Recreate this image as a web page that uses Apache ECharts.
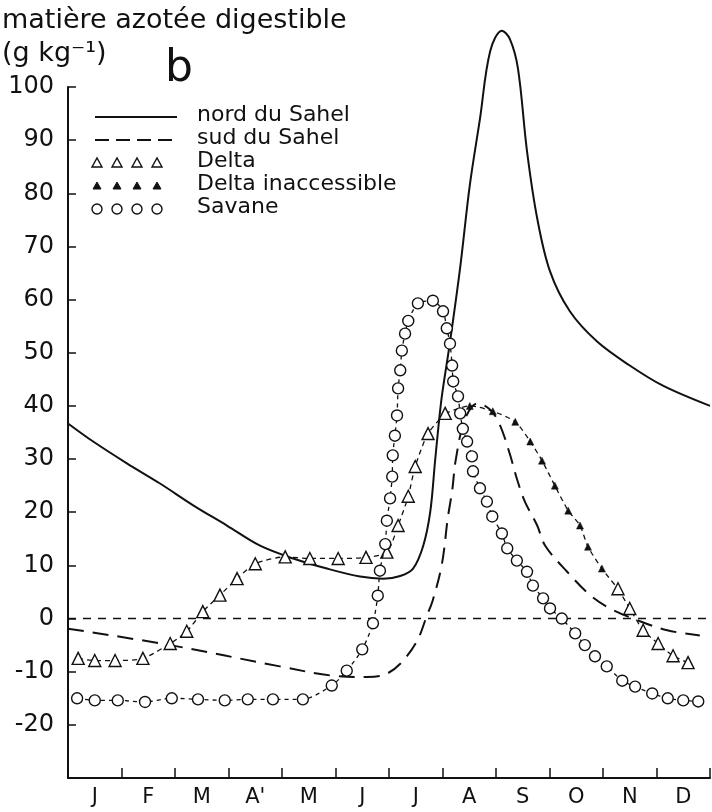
<!DOCTYPE html>
<html>
<head>
<meta charset="utf-8">
<script src="https://cdn.jsdelivr.net/npm/echarts@6/dist/echarts.min.js"></script>
<style>html,body{margin:0;padding:0;background:#fff}#c{width:712px;height:812px}</style>
</head>
<body>
<div id="c"></div>
<script>
const months = ['J','F','M',"A'",'M','J','J','A','S','O','N','D'];

const nordX = [0,0.47,1.10,1.72,2.34,2.97,3.59,4.21,4.84,5.46,5.89,6.21,6.45,6.64,6.77,6.86,6.92,6.99,7.14,7.33,7.51,7.70,7.89,8.11,8.26,8.41,8.58,8.77,9.01,9.38,9.89,10.50,11.12,12.0];
const nordY = [36.7,33.3,29.2,25.4,21.3,17.5,13.7,11.3,9.4,7.9,7.5,8.0,9.4,13.7,20,29.5,35.7,42,52,66,81.5,94,106.7,110.6,109,103.5,87.9,75.3,65.3,57.8,52.1,47.6,43.8,40];

const sudX = [0,1.91,3.96,4.90,5.59,5.93,6.21,6.52,6.71,6.82,6.99,7.10,7.18,7.25,7.42,7.66,7.89,8.07,8.26,8.39,8.54,8.77,8.92,9.33,9.76,10.13,10.56,11.20,11.81];
const sudY = [-1.9,-5,-9,-10.7,-11,-10.5,-8.5,-4.3,0.6,3.5,10.3,19,24,30,37.5,40.5,39.3,36.5,30.9,26.3,22,17.5,13.7,8.8,4.4,1.9,0,-2.2,-3.2];

const deltaX = [0.19,0.50,0.88,1.40,1.91,2.22,2.52,2.84,3.16,3.50,4.06,4.52,5.05,5.57,5.96,6.17,6.36,6.49,6.73,7.05];
const deltaY = [-7.5,-7.9,-7.9,-7.5,-4.7,-2.4,1.3,4.4,7.5,10.3,11.6,11.3,11.3,11.5,12.5,17.5,23,28.6,34.8,38.6];
const deltaLateX = [10.28,10.50,10.75,11.03,11.31,11.59];
const deltaLateY = [5.6,1.9,-2.2,-4.7,-7,-8.3];

const inaccX = [7.51,7.94,8.36,8.64,8.86,9.10,9.35,9.57,9.72,9.98];
const inaccY = [40,39,37,33.3,29.7,25,20.3,17.5,13.5,9.4];

const savX = [0.17,0.50,0.93,1.44,1.94,2.43,2.93,3.36,3.83,4.39,4.93,5.21,5.50,5.70,5.79,5.83,5.93,5.96,6.02,6.06,6.07,6.11,6.15,6.17,6.21,6.24,6.30,6.36,6.54,6.82,7.01,7.08,7.14,7.18,7.20,7.29,7.33,7.38,7.46,7.55,7.57,7.70,7.83,7.93,8.11,8.21,8.39,8.58,8.69,8.88,9.01,9.23,9.48,9.66,9.85,10.07,10.36,10.60,10.92,11.21,11.50,11.78];
const savY = [-15,-15.4,-15.4,-15.7,-15,-15.2,-15.4,-15.2,-15.2,-15.2,-12.6,-9.8,-5.8,-0.9,4.3,9,14,18.4,22.6,26.7,30.7,34.4,38.2,43.3,46.7,50.4,53.6,56,59.3,59.8,57.8,54.6,51.7,47.6,44.6,41.8,38.6,35.7,33.3,30.5,27.7,24.5,22,19.2,16,13.2,10.9,8.8,6.2,3.8,1.9,0,-2.8,-5,-7.1,-9,-11.7,-12.8,-14.1,-15,-15.4,-15.6];

const legendNames = ['nord du Sahel','sud du Sahel','Delta','Delta inaccessible','Savane'];

const zip = (xs, ys) => xs.map((x, i) => [x, ys[i]]);
const INK = '#111';
const FONT = '"DejaVu Sans", sans-serif';

const deltaData = zip(deltaX, deltaY).concat([[null, null]], zip(deltaLateX, deltaLateY));
const inaccData = [{value: [deltaX[deltaX.length-1], deltaY[deltaY.length-1]], symbol: 'none'}]
  .concat(zip(inaccX, inaccY))
  .concat([{value: [deltaLateX[0], deltaLateY[0]], symbol: 'none'}]);

const chart = echarts.init(document.getElementById('c'));

const lg = [];
const rowsY = [117, 140, 163, 186, 209];
const iconXs = [97, 117, 137, 157];
lg.push({type:'line', shape:{x1:95,y1:rowsY[0],x2:177,y2:rowsY[0]}, style:{stroke:INK, lineWidth:2}});
lg.push({type:'line', shape:{x1:95,y1:rowsY[1],x2:177,y2:rowsY[1]}, style:{stroke:INK, lineWidth:2, lineDash:[14,7]}});
iconXs.forEach(cx => {
  lg.push({type:'polygon', shape:{points:[[cx-5,rowsY[2]+4],[cx+5,rowsY[2]+4],[cx,rowsY[2]-5]]}, style:{fill:'#fff', stroke:INK, lineWidth:1.4}});
  lg.push({type:'polygon', shape:{points:[[cx-4,rowsY[3]+3],[cx+4,rowsY[3]+3],[cx,rowsY[3]-4]]}, style:{fill:INK, stroke:INK, lineWidth:1}});
  lg.push({type:'circle', shape:{cx:cx, cy:rowsY[4], r:5}, style:{fill:'#fff', stroke:INK, lineWidth:1.4}});
});
legendNames.forEach((n, i) => {
  lg.push({type:'text', left:197, top:rowsY[i]-13, style:{text:n, font:'22px ' + FONT, fill:INK}});
});

chart.setOption({
  backgroundColor: '#fff',
  animation: false,
  grid: {left: 68, right: 2, top: 87, bottom: 34, containLabel: false},
  xAxis: [
    {type:'value', min:0, max:12, interval:1,
     axisLine:{show:true, onZero:false, lineStyle:{color:INK, width:2}},
     axisTick:{show:true, inside:true, length:10, lineStyle:{color:INK, width:1.5}},
     axisLabel:{show:false}, splitLine:{show:false}},
    {type:'category', data: months, position:'bottom', boundaryGap:true,
     axisLine:{show:false}, axisTick:{show:false}, splitLine:{show:false},
     axisLabel:{show:true, color:INK, fontSize:21, fontFamily:FONT, margin:9}}
  ],
  yAxis: {type:'value', min:-30, max:100, interval:10,
    axisLine:{show:true, lineStyle:{color:INK, width:2}},
    axisTick:{show:true, inside:true, length:8, lineStyle:{color:INK, width:1.5}},
    axisLabel:{color:INK, fontSize:24, fontFamily:FONT, margin:14,
      formatter: v => v === -30 ? '' : String(v)},
    splitLine:{show:false}},
  graphic: [
    {type:'text', left:2, top:7, style:{text:'matière azotée digestible', font:'27px ' + FONT, fill:INK}},
    {type:'text', left:2, top:40, style:{text:'(g kg⁻¹)', font:'27px ' + FONT, fill:INK}},
    {type:'text', left:165, top:48, style:{text:'b', font:'44px ' + FONT, fill:INK}}
  ].concat(lg),
  series: [
    {name:'nord du Sahel', type:'line', xAxisIndex:0, data: zip(nordX, nordY), smooth:0.35,
     symbol:'none', clip:false, lineStyle:{color:INK, width:2}, z:3},
    {name:'sud du Sahel', type:'line', xAxisIndex:0, data: zip(sudX, sudY), smooth:0.35,
     symbol:'none', lineStyle:{color:INK, width:2, type:[16,9]}, z:3},
    {name:'Delta', type:'line', xAxisIndex:0, data: deltaData, smooth:0.25, connectNulls:false,
     symbol:'triangle', symbolSize:12, showAllSymbol:true,
     itemStyle:{color:'#fff', borderColor:INK, borderWidth:1.4},
     lineStyle:{color:INK, width:1.3, type:[5,4]}, z:4},
    {name:'Delta inaccessible', type:'line', xAxisIndex:0, data: inaccData, smooth:0.25,
     symbol:'triangle', symbolSize:7, showAllSymbol:true,
     itemStyle:{color:INK, borderColor:INK, borderWidth:0.5},
     lineStyle:{color:INK, width:1.3, type:[5,4]}, z:4},
    {name:'Savane', type:'line', xAxisIndex:0, data: zip(savX, savY), smooth:0.25,
     symbol:'circle', symbolSize:11, showAllSymbol:true,
     itemStyle:{color:'#fff', borderColor:INK, borderWidth:1.4},
     lineStyle:{color:INK, width:1.3, type:[4,4]}, z:5,
     markLine:{silent:true, symbol:'none', label:{show:false},
       lineStyle:{color:INK, width:1.3, type:[8,7]},
       data:[{yAxis:0}]}}
  ]
});
</script>
</body>
</html>
